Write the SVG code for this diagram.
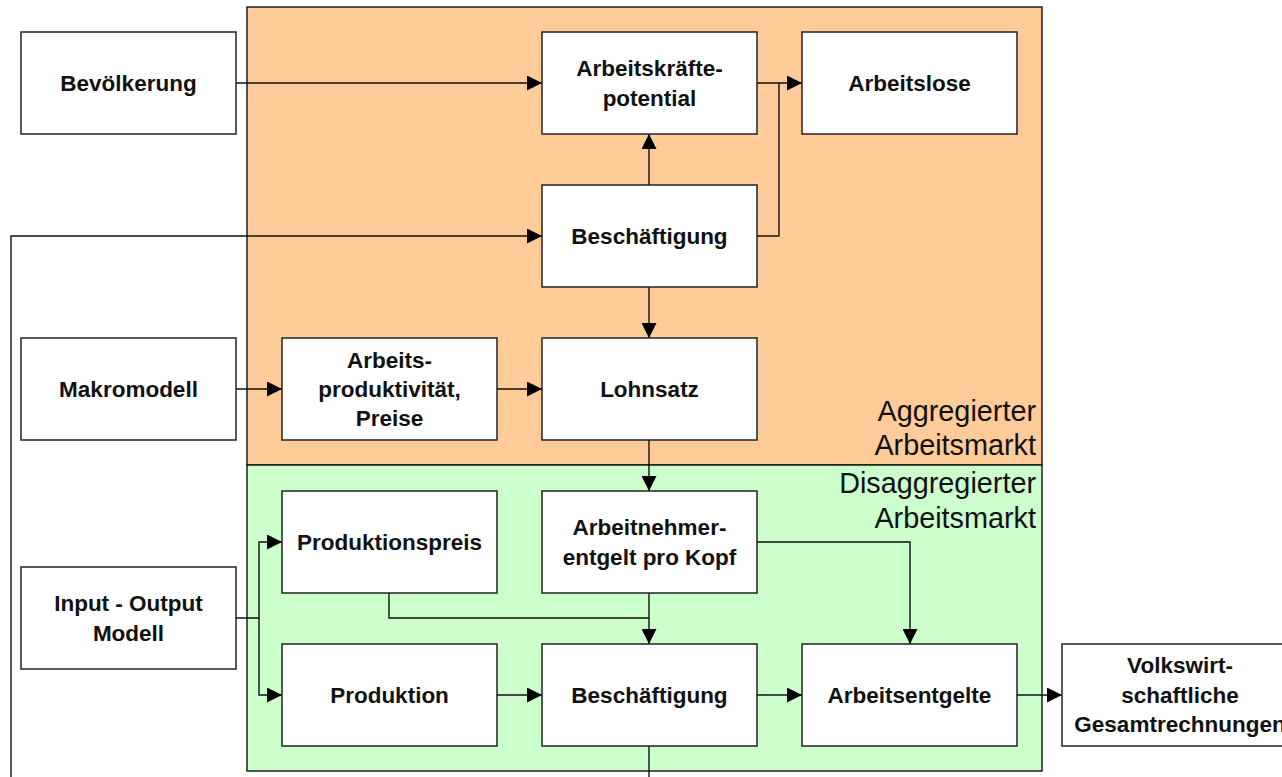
<svg xmlns="http://www.w3.org/2000/svg" width="1282" height="777" viewBox="0 0 1282 777">
<style>
.box{fill:#fff;stroke:#222;stroke-width:1.5}
.t{font-family:"Liberation Sans",Arial,sans-serif;font-weight:bold;font-size:22.5px;fill:#111;text-anchor:middle}
.rl{font-family:"Liberation Sans",Arial,sans-serif;font-size:28.8px;fill:#111;text-anchor:end}
.c{fill:none;stroke:#111;stroke-width:1.4}
.a{marker-end:url(#ah)}
</style>
<defs>
<marker id="ah" markerUnits="userSpaceOnUse" markerWidth="15" markerHeight="15" refX="15" refY="7.5" orient="auto">
<path d="M0,0 L15,7.5 L0,15 z" fill="#000"/>
</marker>
</defs>
<rect width="1282" height="777" fill="#fff"/>
<g id="region-aggregiert">
<rect x="247" y="7" width="795" height="458" fill="#FFCC99" stroke="#111" stroke-width="1.4"/>
<text class="rl" x="1036" y="421">Aggregierter</text>
<text class="rl" x="1036" y="455">Arbeitsmarkt</text>
</g>
<g id="region-disaggregiert">
<rect x="247" y="465" width="795" height="306" fill="#CCFFCC" stroke="#111" stroke-width="1.4"/>
<text class="rl" x="1036" y="493">Disaggregierter</text>
<text class="rl" x="1036" y="528">Arbeitsmarkt</text>
</g>
<g id="connectors">
<path class="c a" d="M236,83 H542"/>
<path class="c a" d="M757,83 H802"/>
<path class="c" d="M757,236 H779 V83"/>
<path class="c a" d="M649,185 V134"/>
<path class="c a" d="M11,777 V236 H542"/>
<path class="c a" d="M649,287 V338"/>
<path class="c a" d="M236,389 H282"/>
<path class="c a" d="M497,389 H542"/>
<path class="c a" d="M649,440 V491"/>
<path class="c a" d="M236,618 H259 V542 H282"/>
<path class="c a" d="M259,618 V695 H282"/>
<path class="c a" d="M649,593 V644"/>
<path class="c" d="M389,593 V618 H649"/>
<path class="c a" d="M757,542 H910 V644"/>
<path class="c a" d="M497,695 H542"/>
<path class="c a" d="M757,695 H802"/>
<path class="c a" d="M1017,695 H1062"/>
<path class="c" d="M649,746 V777"/>
</g>
<g id="n-bevoelkerung">
<rect class="box" x="21" y="32" width="215" height="102"/>
<text class="t" x="128.5" y="91">Bevölkerung</text>
</g>
<g id="n-arbeitskraeftepotential">
<rect class="box" x="542" y="32" width="215" height="102"/>
<text class="t" x="649.5" y="76">Arbeitskräfte-</text>
<text class="t" x="649.5" y="106">potential</text>
</g>
<g id="n-arbeitslose">
<rect class="box" x="802" y="32" width="215" height="102"/>
<text class="t" x="909.5" y="91">Arbeitslose</text>
</g>
<g id="n-beschaeftigung-agg">
<rect class="box" x="542" y="185" width="215" height="102"/>
<text class="t" x="649.5" y="244">Beschäftigung</text>
</g>
<g id="n-makromodell">
<rect class="box" x="21" y="338" width="215" height="102"/>
<text class="t" x="128.5" y="397">Makromodell</text>
</g>
<g id="n-arbeitsproduktivitaet">
<rect class="box" x="282" y="338" width="215" height="102"/>
<text class="t" x="389.5" y="368">Arbeits-</text>
<text class="t" x="389.5" y="397">produktivität,</text>
<text class="t" x="389.5" y="426">Preise</text>
</g>
<g id="n-lohnsatz">
<rect class="box" x="542" y="338" width="215" height="102"/>
<text class="t" x="649.5" y="397">Lohnsatz</text>
</g>
<g id="n-produktionspreis">
<rect class="box" x="282" y="491" width="215" height="102"/>
<text class="t" x="389.5" y="550">Produktionspreis</text>
</g>
<g id="n-arbeitnehmerentgelt">
<rect class="box" x="542" y="491" width="215" height="102"/>
<text class="t" x="649.5" y="535">Arbeitnehmer-</text>
<text class="t" x="649.5" y="565">entgelt pro Kopf</text>
</g>
<g id="n-input-output">
<rect class="box" x="21" y="567" width="215" height="102"/>
<text class="t" x="128.5" y="611">Input - Output</text>
<text class="t" x="128.5" y="641">Modell</text>
</g>
<g id="n-produktion">
<rect class="box" x="282" y="644" width="215" height="102"/>
<text class="t" x="389.5" y="703">Produktion</text>
</g>
<g id="n-beschaeftigung-disagg">
<rect class="box" x="542" y="644" width="215" height="102"/>
<text class="t" x="649.5" y="703">Beschäftigung</text>
</g>
<g id="n-arbeitsentgelte">
<rect class="box" x="802" y="644" width="215" height="102"/>
<text class="t" x="909.5" y="703">Arbeitsentgelte</text>
</g>
<g id="n-vgr">
<rect class="box" x="1062" y="644" width="236" height="102"/>
<text class="t" x="1180" y="673">Volkswirt-</text>
<text class="t" x="1180" y="703">schaftliche</text>
<text class="t" x="1180" y="732">Gesamtrechnungen</text>
</g>
</svg>
